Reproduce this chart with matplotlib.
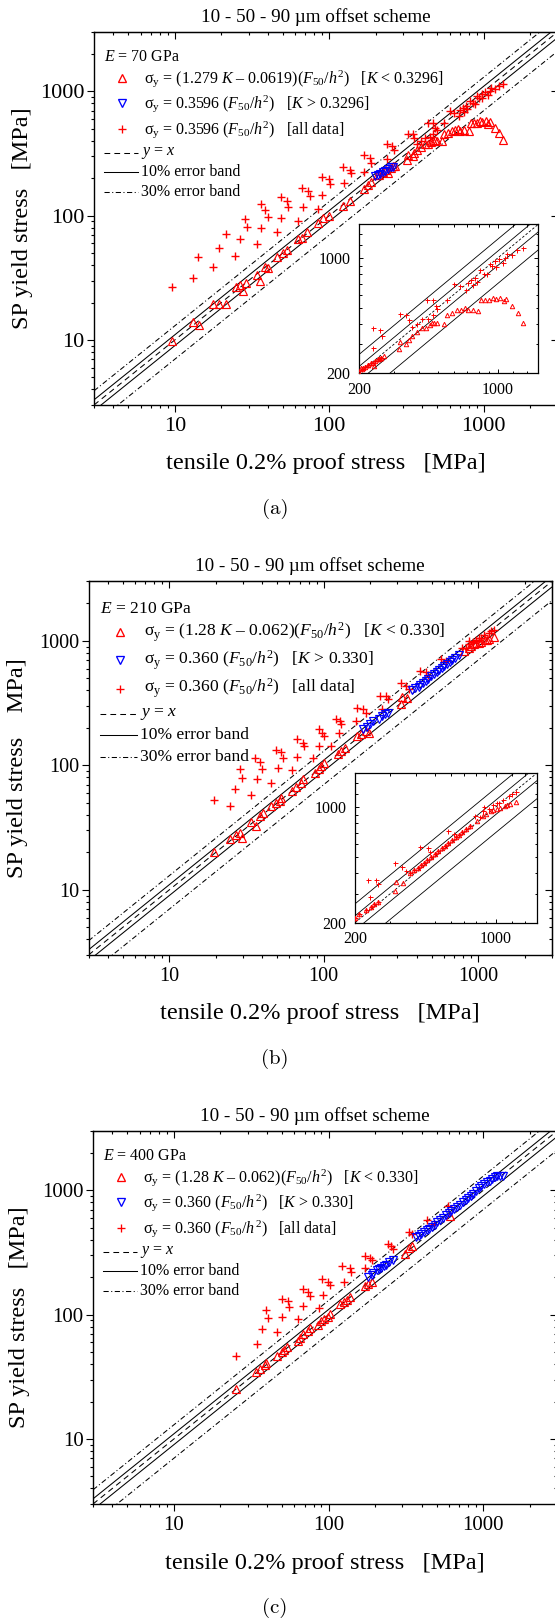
import numpy as np
import matplotlib
matplotlib.use("Agg")
import matplotlib.pyplot as plt
from matplotlib.lines import Line2D
from matplotlib.ticker import FixedLocator, FixedFormatter, NullFormatter

plt.rcParams['font.family'] = ['Liberation Serif', 'DejaVu Serif']
plt.rcParams['mathtext.fontset'] = 'custom'
plt.rcParams['mathtext.rm'] = 'Liberation Serif'
plt.rcParams['mathtext.it'] = 'Liberation Serif:italic'
plt.rcParams['mathtext.bf'] = 'Liberation Serif:bold'

# ---------------- data ----------------
# Panel (a)  E = 70 GPa
a_up_x = [9.6, 13.1, 14.3, 17.7, 19.2, 21.4, 24.8, 26.4, 27.8, 28.9, 34.0, 35.4, 38.4, 40.4, 45.9, 49.8,
          53.0, 63.0, 66.7, 72.0, 84.6, 91.6, 99.5, 123, 137, 169, 178, 185, 204, 210, 223, 234, 239, 251,
          258, 266, 317, 323, 346, 356, 370, 392, 416, 433, 458, 467, 480, 496, 536, 552, 590, 622, 651,
          684, 704, 746, 798, 822, 862, 907, 943, 981, 1032, 1069, 1103, 1178, 1263, 1339]
a_up_y = [9.8, 14.0, 13.1, 19.3, 19.4, 19.4, 26.7, 27.6, 25.0, 28.8, 33.6, 30.0, 38.8, 38.0, 46.6, 50.0,
          53.4, 64.5, 66.3, 74.0, 87.6, 95.0, 99.0, 120, 130, 164, 176, 188, 214, 214, 224, 232, 222, 243,
          249, 253, 279, 308, 301, 318, 337, 357, 375, 375, 392, 401, 405, 401, 397, 451, 461, 483, 487,
          501, 483, 487, 476, 555, 560, 560, 573, 562, 573, 549, 567, 510, 461, 405]
a_dn_x = [198, 206, 214, 222, 230, 240, 250, 258]
a_dn_y = [207, 213, 218, 224, 230, 236, 245, 248]
a_pl_x = [9.6, 13.1, 14.2, 17.7, 19.4, 21.4, 24.4, 26.4, 28.3, 29.4, 34.0, 35.9, 38.6, 39.9, 36.3, 45.9,
          49.0, 48.8, 53.0, 54.0, 62.8, 66.3, 67.2, 72.4, 74.5, 84.6, 90.0, 100, 100.5, 90.0, 122, 137,
          139, 124, 169, 184, 187, 169, 236, 254, 261, 236, 321, 346, 356, 368, 392, 416, 438, 446, 472,
          486, 471, 496, 552, 602, 642, 689, 704, 737, 746, 770, 784, 816, 855, 882, 910, 932, 970, 981,
          1017, 1057, 1093, 1112, 1178, 1255, 1339]
a_pl_y = [26.7, 31.8, 46.6, 38.8, 54.6, 70.6, 47.5, 64.5, 94.6, 81.5, 59.0, 123, 111, 97.6, 79.0, 73.4,
          95.0, 140, 132, 118, 90.6, 166, 118, 159, 144, 113, 204, 198, 180, 147, 248, 231,
          219, 182, 308, 290, 267, 226, 374, 365, 338, 283, 457, 451, 420, 379, 397, 424, 560, 429, 555,
          510, 451, 488, 560, 693, 675, 638, 707, 740, 683, 760, 716, 842, 802, 796, 924, 889, 953, 881,
          988, 933, 1003, 1062, 1037, 1112, 1150]

# Panel (b)  E = 210 GPa
b_up_x = [19.5, 24.8, 26.9, 28.6, 29.8, 34.0, 36.5, 38.8, 40.5, 45.5, 49.3, 51.9, 53.3, 62.6, 65.9, 71.2,
          73.3, 88.0, 92.9, 96.4, 100.4, 123.8, 130, 137, 165, 174, 189, 197, 316, 321, 346, 809, 868,
          900, 943, 975, 1010, 1050, 1108, 1140, 1185, 1264]
b_up_y = [20.0, 25.5, 27.5, 28.8, 26.3, 34.8, 32.6, 39.3, 41.3, 47.3, 50.1, 51.6, 55.2, 62.4, 67.6, 72.8,
          77.4, 87.6, 93.1, 99.4, 105, 123, 131, 139, 172, 178, 189, 183, 311, 352, 348, 824, 883,
          910, 947, 955, 969, 985, 1010, 1025, 1044, 1072]
b_dn_x = [180, 190, 200, 210, 228, 240, 250, 260, 376, 392, 412, 424, 441, 458, 477, 497, 517, 540, 560,
          583, 606, 632, 655, 683, 710, 748]
b_dn_y = [195, 204, 214, 226, 238, 250, 258, 266, 400, 415, 430, 445, 462, 480, 498, 520, 540, 565, 585,
          608, 632, 655, 680, 705, 733, 768]
b_pl_x = [19.5, 24.8, 26.6, 28.7, 29.5, 34.0, 35.9, 38.8, 40.0, 36.8, 45.5, 49.3, 53.3, 54.8, 50.6, 62.6,
          67.6, 73.3, 75.1, 67.6, 85.8, 92.9, 97.7, 100.4, 92.9, 121, 127, 130, 125.6, 111, 165, 180,
          189, 161, 232, 254, 261, 238, 316, 343, 357, 420, 462, 471, 578, 621, 788, 840, 868, 877, 930,
          966, 1010, 1044, 1090, 1170, 1210, 1266]
b_pl_y = [52.9, 47.3, 64.4, 93.0, 79.8, 57.5, 115.6, 106.7, 93.0, 77.5, 72.0, 132, 127, 115.6, 94.7, 92.0,
          162, 152, 143, 117, 114, 195, 183, 172, 143, 235, 228, 214, 181, 143, 291, 283,
          266, 228, 364, 360, 341, 286, 458, 433, 409, 571, 566, 533, 712, 686, 883, 870, 947, 1000, 975,
          1026, 1055, 1063, 1110, 1160, 1200, 1233]

# Panel (c)  E = 400 GPa
c_up_x = [25.1, 33.9, 36.3, 38.9, 39.7, 46.5, 49.8, 51.7, 53.9, 63.1, 65.8, 68.3, 73.8, 75.8, 85.0, 88.8,
          93.6, 98.8, 101.5, 118.5, 125, 131.6, 137, 171, 180, 190, 314, 330, 347, 606]
c_up_y = [25.3, 34.5, 36.3, 39.2, 41.2, 46.8, 49.9, 52.1, 54.8, 61.0, 65.1, 69.4, 73.9, 77.8, 81.9, 88.3,
          92.4, 95.3, 100.3, 121, 127, 131, 138, 170, 177, 183, 305, 346, 358, 621]
c_dn_x = [180, 190, 194, 205, 213, 220, 228, 235, 247, 260, 368, 385, 398, 415, 431, 448, 466, 485, 505,
          525, 546, 575, 598, 622, 648, 674, 710, 740, 769, 800, 832, 865, 900, 935, 974, 1015, 1055, 1100,
          1141, 1185, 1234, 1290, 1335]
c_dn_y = [199, 207, 215, 227, 232, 237, 245, 252, 264, 277, 419, 432, 446, 460, 476, 492, 507, 530, 557,
          575, 594, 633, 655, 682, 705, 728, 766, 800, 842, 870, 898, 940, 987, 1035, 1086, 1120, 1157, 1195,
          1233, 1270, 1314, 1300, 1314]
c_pl_x = [25.1, 34.4, 36.9, 39.3, 40.8, 46.7, 49.8, 54.4, 55.3, 50.3, 63.9, 68.3, 73.8, 75.8, 68.3, 86.7,
          91.0, 98.8, 101.5, 92.0, 122, 137, 140, 125, 171, 186, 190, 171, 241, 254, 260, 330, 347, 431,
          478, 591]
c_pl_y = [46.8, 57.7, 76.9, 108, 94.2, 72.1, 134, 129, 115, 95.2, 92.4, 161, 152, 140, 118, 114,
          195, 183, 172, 145, 244, 237, 222, 183, 295, 286, 274, 237, 369, 358, 340, 460, 446, 576,
          540, 742]

# error bands (y = factor * x)
band_factors = [1.0, 1.1, 0.9, 1.3, 0.7]
band_kinds = ['yx', '10', '10', '30', '30']

major_ticks = [10, 100, 1000]
major_labels = ['10', '100', '1000']
inset_major = [200, 1000]
inset_labels = ['200', '1000']

leg_a = ['$E$ = 70 GPa',
         'σ$_\\mathrm{y}$ = (1.279 $K$ – 0.0619)($F_{50}$/$h^2$)   [$K$ < 0.3296]',
         'σ$_\\mathrm{y}$ = 0.3596 ($F_{50}$/$h^2$)   [$K$ > 0.3296]',
         'σ$_\\mathrm{y}$ = 0.3596 ($F_{50}$/$h^2$)   [all data]']
leg_b = ['$E$ = 210 GPa',
         'σ$_\\mathrm{y}$ = (1.28 $K$ – 0.062)($F_{50}$/$h^2$)   [$K$ < 0.330]',
         'σ$_\\mathrm{y}$ = 0.360 ($F_{50}$/$h^2$)   [$K$ > 0.330]',
         'σ$_\\mathrm{y}$ = 0.360 ($F_{50}$/$h^2$)   [all data]']
leg_c = ['$E$ = 400 GPa',
         'σ$_\\mathrm{y}$ = (1.28 $K$ – 0.062)($F_{50}$/$h^2$)   [$K$ < 0.330]',
         'σ$_\\mathrm{y}$ = 0.360 ($F_{50}$/$h^2$)   [$K$ > 0.330]',
         'σ$_\\mathrm{y}$ = 0.360 ($F_{50}$/$h^2$)   [all data]']
line_labels = ['$y$ = $x$', '10% error band', '30% error band']

# ---------------- figure ----------------
W, H = 555, 1618
fig = plt.figure(figsize=(W / 100, H / 100), dpi=100)


def box(L, T, R, B):
    return [L / W, 1 - B / H, (R - L) / W, (B - T) / H]


def fx(px):
    return px / W


def fy(py):
    return 1 - py / H


DASH = (0, (5.5, 4.0))
DASHDOT = (0, (5.0, 2.4, 1.0, 2.4))
RED = '#ff0000'
BLUE = '#0000ff'
TRI_MS = 6.4
PLUS_MS = 5.8


def minor_list(lo, hi):
    out = []
    for e in range(0, 5):
        for m in range(2, 10):
            v = m * 10 ** e
            if lo <= v <= hi:
                out.append(v)
    return out


def draw_panel(L, T, R, B, up_x, up_y, dn_x, dn_y, pl_x, pl_y, leg, leg_fs, leg_scale,
               ylabel, ylab_x, sub, inset=None, tick_fs=15.5):
    ax = fig.add_axes(box(L, T, R, B))
    ax.set_xscale('log')
    ax.set_yscale('log')
    lim = (3, 3000)
    ax.set_xlim(lim)
    ax.set_ylim(lim)
    for axis in (ax.xaxis, ax.yaxis):
        axis.set_major_locator(FixedLocator(major_ticks))
        axis.set_major_formatter(FixedFormatter(major_labels))
        axis.set_minor_locator(FixedLocator(minor_list(3, 3000)))
        axis.set_minor_formatter(NullFormatter())
    ax.tick_params(which='major', direction='out', length=4.8, width=0.8, labelsize=tick_fs)
    ax.tick_params(which='minor', direction='out', length=2.4, width=0.8)
    ax.tick_params(axis='x', pad=3.5)
    ax.tick_params(axis='y', pad=2)
    for s in ax.spines.values():
        s.set_linewidth(1.0)
    secx = ax.secondary_xaxis('top')
    secx.xaxis.set_major_locator(FixedLocator(major_ticks))
    secx.xaxis.set_minor_locator(FixedLocator(minor_list(3, 3000)))
    secx.xaxis.set_minor_formatter(NullFormatter())
    secx.tick_params(which='major', direction='in', length=4.8, width=0.8, labeltop=False)
    secx.tick_params(which='minor', direction='in', length=2.4, width=0.8)
    secy = ax.secondary_yaxis('right')
    secy.yaxis.set_major_locator(FixedLocator(major_ticks))
    secy.yaxis.set_minor_locator(FixedLocator(minor_list(3, 3000)))
    secy.yaxis.set_minor_formatter(NullFormatter())
    secy.tick_params(which='major', direction='in', length=4.8, width=0.8, labelright=False)
    secy.tick_params(which='minor', direction='in', length=2.4, width=0.8)

    for f, k in zip(band_factors, band_kinds):
        ls = {'yx': DASH, '10': '-', '30': DASHDOT}[k]
        ax.plot(lim, [f * lim[0], f * lim[1]], color='k', lw=0.75, ls=ls, zorder=1)

    ax.plot(up_x, up_y, ls='none', marker='^', ms=TRI_MS, mfc='none', mec=RED, mew=0.85, zorder=3)
    ax.plot(pl_x, pl_y, ls='none', marker='+', ms=PLUS_MS, mec=RED, mew=1.0, zorder=3)
    ax.plot(dn_x, dn_y, ls='none', marker='v', ms=TRI_MS, mfc='none', mec=BLUE, mew=0.85, zorder=4)

    # legend (drawn manually)
    s = leg_scale
    fig.text(fx(L + 10 * s), fy(T + 24.7 * s), leg[0], fontsize=leg_fs, ha='left', va='center')
    marks = [('^', RED, 6), ('v', BLUE, 6), ('+', RED, 5.8)]
    rows = [46.3, 71.3, 97.3]
    for (m, c, ms), r, txt in zip(marks, rows, leg[1:]):
        fig.add_artist(Line2D([fx(L + 28.3 * s)], [fy(T + r * s)], transform=fig.transFigure,
                              ls='none', marker=m, ms=ms, mfc='none', mec=c, mew=0.95))
        fig.text(fx(L + 50.3 * s), fy(T + r * s), txt, fontsize=leg_fs, ha='left', va='center')
    lrows = [120.7, 139.7, 159.7]
    for ls, r, txt in zip([DASH, '-', DASHDOT], lrows, line_labels):
        fig.add_artist(Line2D([fx(L + 10 * s), fx(L + 44 * s)], [fy(T + r * s)] * 2,
                              transform=fig.transFigure, color='k', lw=0.75, ls=ls))
        fig.text(fx(L + 47 * s), fy(T + r * s), txt, fontsize=leg_fs, ha='left', va='center')

    # labels
    fig.text(fx(L + (R - L) / 2 - 10), fy(T - 15), '10 - 50 - 90 µm offset scheme',
             fontsize=13.8, ha='center', va='center')
    fig.text(fx(L + (R - L) / 2), fy(B + 59), 'tensile 0.2% proof stress   [MPa]',
             fontsize=17.5, ha='center', va='center')
    fig.text(fx(ylab_x), fy((T + B) / 2), ylabel, fontsize=17.5, ha='center', va='center',
             rotation=90)
    fig.text(fx(275), fy(B + 104), sub, fontsize=15, ha='center', va='center', family='cmr10')

    if inset is not None:
        iL, iT, iR, iB = inset
        axi = fig.add_axes(box(iL, iT, iR, iB))
        axi.set_xscale('log')
        axi.set_yscale('log')
        ilim = (200, 1600)
        axi.set_xlim(ilim)
        axi.set_ylim(ilim)
        iminor = [300, 400, 500, 600, 700, 800, 900, 1200, 1400]
        for axis in (axi.xaxis, axi.yaxis):
            axis.set_major_locator(FixedLocator(inset_major))
            axis.set_major_formatter(FixedFormatter(inset_labels))
            axis.set_minor_locator(FixedLocator(iminor))
            axis.set_minor_formatter(NullFormatter())
        axi.tick_params(which='both', direction='in', top=True, right=True, width=0.7,
                        labelsize=11.5, pad=6)
        axi.tick_params(which='major', length=3.2)
        axi.tick_params(which='minor', length=1.8)
        for sp in axi.spines.values():
            sp.set_linewidth(0.9)
        for f, k in zip(band_factors, band_kinds):
            ls = (0, (3.0, 2.2)) if k == 'yx' else '-'
            axi.plot(ilim, [f * ilim[0], f * ilim[1]], color='k', lw=0.6, ls=ls, zorder=1)
        axi.plot(list(up_x) + list(dn_x), list(up_y) + list(dn_y), ls='none', marker='^', ms=3.2,
                 mfc='none', mec=RED, mew=0.7, zorder=3)
        axi.plot(list(pl_x) + list(dn_x), list(pl_y) + list(dn_y), ls='none', marker='+', ms=3.6,
                 mec=RED, mew=0.7, zorder=3)
    return ax


draw_panel(94, 32, 557.5, 405, a_up_x, a_up_y, a_dn_x, a_dn_y, a_pl_x, a_pl_y, leg_a, 11.5, 1.0,
           'SP yield stress   [MPa]', 23, '(a)', inset=(359, 224.3, 538.3, 373.3), tick_fs=16)
draw_panel(88.5, 581.5, 551.7, 955, b_up_x, b_up_y, b_dn_x, b_dn_y, b_pl_x, b_pl_y, leg_b, 12.6, 1.1,
           'SP yield stress    MPa]', 18, '(b)', inset=(355, 773.3, 536.7, 922.7), tick_fs=14.5)
draw_panel(93, 1131, 557, 1504, c_up_x, c_up_y, c_dn_x, c_dn_y, c_pl_x, c_pl_y, leg_c, 11.5, 1.0,
           'SP yield stress   [MPa]', 20, '(c)', tick_fs=15)

fig.savefig('out.png', dpi=100)
